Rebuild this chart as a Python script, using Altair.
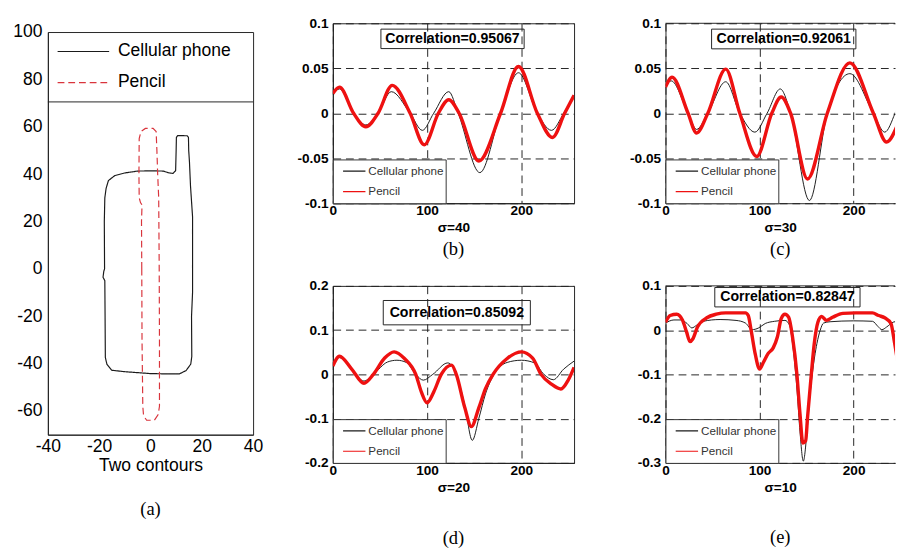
import altair as alt
import pandas as pd

SANS = "Liberation Sans"
SERIF = "Liberation Serif"
series_names = ["Cellular phone", "Pencil"]

# ---------------- (a) two contours ----------------
phone_x = [-17.9, -18.0, -17.8, -17.3, -16.4, -13.9, -10.1, -5.0, 0.0, 5.0, 7.0, 8.8, 9.8, 10.0, 10.1, 10.6,
           14.3, 14.8, 14.9, 15.2, 15.6, 16.4, 16.4, 16.4, 16.0, 16.1, 15.7, 13.9, 11.3, 5.0, 0.0, -5.0,
           -10.0, -15.1, -17.0, -17.6, -17.7, -17.8, -18.5, -18.2, -17.9]
phone_y = [0, 20, 30, 34, 37.3, 39.4, 40.5, 41.3, 41.4, 41.3, 40.6, 40.3, 41.5, 50, 55.5, 56.3,
           56.2, 55.5, 50, 45, 35, 22, 10, -10, -20, -37, -40.2, -42.9, -44.3, -44.3, -44.2, -43.8,
           -43.4, -42.8, -40.2, -37.4, -20, -5, -3.5, -1, 0]
pencil_x = [-3.4, -3.5, -3.3, -3.9, -4.4, -4.5, -4.4, -3.7, -2.0, 1.0, 2.2, 2.5, 2.8, 3.2, 3.4, 3.5, 3.5,
            3.0, 1.5, -1.5, -2.7, -3.0, -3.3, -3.4]
pencil_y = [0, 20, 27, 28, 30, 40, 55, 58, 59.3, 59.3, 58, 50, 40, 30, 0, -30, -58,
            -61.5, -63.9, -63.9, -62, -58, -30, 0]
a_legend_bottom = [70.5]

# ---------------- (b) sigma = 40 ----------------
b_phone_x = [0, 7, 22, 35, 48, 62, 82, 95, 107, 123, 133, 156, 178, 197, 217, 232, 245, 256]
b_phone_y = [0.022, 0.027, 0.0, -0.013, 0.0, 0.024, 0.0, -0.019, 0.0, 0.024, 0.0, -0.066, 0.0, 0.045, 0.0,
             -0.019, 0.0, 0.020]
b_pencil_x = [0, 7, 22, 35, 48, 63, 82, 97, 112, 123, 134, 155, 178, 197, 217, 233, 246, 256]
b_pencil_y = [0.022, 0.029, 0.0, -0.015, 0.0, 0.031, 0.0, -0.035, 0.0, 0.015, 0.0, -0.053, 0.0, 0.052, 0.0,
              -0.027, 0.0, 0.020]

# ---------------- (c) sigma = 30 ----------------
c_phone_x = [0, 6, 24, 33, 45, 64, 79, 95, 108, 122, 133, 153, 172, 196, 221, 233, 244, 247]
c_phone_y = [0.031, 0.036, 0.0, -0.018, 0.0, 0.035, 0.0, -0.021, 0.0, 0.027, 0.0, -0.097, 0.0, 0.044, 0.0,
             -0.021, 0.0, 0.008]
c_pencil_x = [0, 7, 24, 33, 45, 64, 79, 97, 113, 123, 133, 151, 172, 196, 221, 235, 247]
c_pencil_y = [0.029, 0.040, 0.0, -0.022, 0.0, 0.049, 0.0, -0.048, 0.0, 0.018, 0.0, -0.073, 0.0, 0.056, 0.0,
              -0.032, -0.012]

# ---------------- (d) sigma = 20 ----------------
d_phone_x = [0, 7, 20, 33, 43, 58, 68, 78, 88, 96, 106, 122, 131, 140, 148, 155, 162, 171, 185, 200, 214,
             224, 234, 245, 256]
d_phone_y = [0.028, 0.038, 0.012, -0.015, 0.0, 0.028, 0.032, 0.027, 0.0, -0.013, 0.0, 0.026, 0.0, -0.07,
             -0.149, -0.099, -0.044, 0.0, 0.027, 0.032, 0.026, 0.0, -0.012, 0.012, 0.030]
d_pencil_x = [0, 7, 20, 33, 43, 55, 65, 76, 88, 94, 100, 107, 115, 126, 131, 140, 147, 155, 162, 170, 185,
              200, 212, 221, 232, 242, 250, 256]
d_pencil_y = [0.019, 0.041, 0.012, -0.020, 0.0, 0.037, 0.051, 0.036, 0.0, -0.040, -0.064, -0.040, 0.0, 0.021,
              0.0, -0.075, -0.118, -0.075, -0.032, 0.0, 0.036, 0.051, 0.037, 0.0, -0.022, -0.033, -0.012, 0.016]

# ---------------- (e) sigma = 10 ----------------
e_phone_x = [0, 9, 16, 23, 28, 33, 40, 58, 75, 85, 92, 99, 106, 116, 127, 132, 135, 140, 143, 146.5, 150,
             153, 156, 161, 164.5, 168, 175, 200, 220, 226, 230, 235, 242, 247]
e_phone_y = [0.016, 0.023, 0.023, 0.015, 0.005, 0.011, 0.020, 0.024, 0.022, 0.016, 0.001, 0.005, 0.015,
             0.020, 0.022, 0.011, -0.029, -0.14, -0.23, -0.296, -0.24, -0.16, -0.10, -0.03, 0.0, 0.016,
             0.019, 0.021, 0.020, 0.008, 0.001, 0.007, 0.018, 0.020]
e_pencil_x = [0, 5, 12, 18, 22.4, 26, 29, 34, 44, 54, 64, 85, 88, 91, 95.5, 100, 104, 109, 114.5, 119, 123,
              127, 131, 135, 139.7, 143, 146, 149, 151, 155, 158, 162, 166, 171, 177.6, 188.6, 202, 220,
              226.6, 233, 239.7, 243, 246.6]
e_pencil_y = [0.018, 0.033, 0.036, 0.023, -0.004, -0.026, -0.020, 0.007, 0.028, 0.036, 0.039, 0.039, 0.033,
              0.0, -0.055, -0.088, -0.073, -0.053, -0.040, -0.015, 0.026, 0.036, 0.029, -0.015, -0.10,
              -0.19, -0.255, -0.25, -0.197, -0.10, -0.033, 0.018, 0.031, 0.022, 0.029, 0.038, 0.039, 0.039,
              0.033, 0.028, 0.015, -0.022, -0.069]

corr_labels = ["Correlation=0.95067", "Correlation=0.92061", "Correlation=0.85092", "Correlation=0.82847"]
sigma_labels = ["σ=40", "σ=30", "σ=20", "σ=10"]
captions = ["(a)", "(b)", "(c)", "(d)", "(e)"]
wave_xticks = [0, 100, 200]
a_xticks = [-40, -20, 0, 20, 40]
a_yticks = [-60, -40, -20, 0, 20, 40, 60, 80, 100]


def series_frame(px, py, qx, qy):
    rows = []
    for i, (x, y) in enumerate(zip(px, py)):
        rows.append({"x": x, "y": y, "series": series_names[0], "i": i})
    for i, (x, y) in enumerate(zip(qx, qy)):
        rows.append({"x": x, "y": y, "series": series_names[1], "i": i})
    return pd.DataFrame(rows)


def wave_panel(px, py, qx, qy, ydom, yticks, xmax, w, h, sigma, caption, cap_offset, corr, box, open_right):
    df = series_frame(px, py, qx, qy)
    xs = alt.Scale(domain=[0, xmax], nice=False, zero=False)
    ys = alt.Scale(domain=ydom, nice=False, zero=False)
    common = dict(grid=True, gridDash=[8, 5], gridColor="#222", gridWidth=1, ticks=False,
                  labelFlush=False, labelOverlap=False, labelBound=False,
                  labelFont=SANS, labelFontSize=14, labelFontWeight="bold", labelColor="black",
                  domainColor="#222", labelExpr="'' + datum.value")
    xaxis = alt.Axis(values=wave_xticks, title=sigma, labelPadding=1, titlePadding=3,
                     titleFont=SANS, titleFontSize=14, titleFontWeight="bold", titleColor="black", **common)
    yaxis = alt.Axis(values=yticks, title=None, labelPadding=5, **common)
    leg = alt.Legend(title=None, orient="none", legendX=0, legendY=h - 45, symbolType="stroke",
                     symbolSize=529, symbolStrokeWidth=1.2, symbolOffset=8, labelOffset=2,
                     labelFont=SANS, labelFontSize=12, labelColor="#333", padding=1.5, rowPadding=0,
                     clipHeight=21, strokeColor="#333", fillColor="white")
    color = alt.Color("series:N", scale=alt.Scale(domain=series_names, range=["#1a1a1a", "#ee1111"]),
                      legend=leg)
    base = alt.Chart(df).encode(x=alt.X("x:Q", scale=xs, axis=xaxis), y=alt.Y("y:Q", scale=ys, axis=yaxis),
                                color=color, order="i:Q")
    black = base.transform_filter(alt.datum.series == series_names[0]).mark_line(
        strokeWidth=1, interpolate="monotone", clip=True)
    red = base.transform_filter(alt.datum.series == series_names[1]).mark_line(
        strokeWidth=3.5, interpolate="monotone", clip=True)
    bdf = pd.DataFrame({"x1": [box[0]], "x2": [box[1]], "y1": [box[2]], "y2": [box[3]],
                        "tx": [(box[0] + box[1]) / 2], "ty": [(box[2] + box[3]) / 2], "label": [corr]})
    rect = alt.Chart(bdf).mark_rect(filled=False, stroke="#222", strokeWidth=1).encode(
        x=alt.X("x1:Q", scale=xs, axis=xaxis), x2="x2", y=alt.Y("y1:Q", scale=ys, axis=yaxis), y2="y2")
    text = alt.Chart(bdf).mark_text(font=SANS, fontSize=14.5, fontWeight="bold", color="black").encode(
        x=alt.X("tx:Q", scale=xs, axis=xaxis), y=alt.Y("ty:Q", scale=ys, axis=yaxis), text="label:N")
    layers = [rect, text, black, red]
    props = dict(width=w, height=h,
                 title=alt.TitleParams(caption, orient="bottom", font=SERIF, fontSize=19, fontWeight="normal",
                                       offset=cap_offset, frame="group", anchor="middle", color="black"))
    if open_right:
        top = alt.Chart(pd.DataFrame({"t": [ydom[1]]})).mark_rule(color="#222", strokeWidth=1).encode(
            y=alt.Y("t:Q", scale=ys, axis=yaxis))
        layers.append(top)
        props["view"] = alt.ViewBackground(stroke="transparent")
    return alt.layer(*layers).properties(**props)


# ---------------- panel (a) ----------------
adf = series_frame(phone_x, phone_y, pencil_x, pencil_y)
leg_a = alt.Legend(title=None, orient="none", legendX=0, legendY=0, symbolType="stroke", symbolSize=2809,
                   symbolStrokeWidth=1.2, symbolOffset=5, labelOffset=8, labelFont=SANS, labelFontSize=18,
                   labelColor="black", padding=4, rowPadding=0, clipHeight=32)
a_axis_common = dict(grid=False, ticks=False, labelFlush=False, labelOverlap=False, labelBound=False,
                     labelFont=SANS, labelFontSize=18, labelColor="black", domainColor="#222",
                     labelExpr="'' + datum.value")
a_xaxis = alt.Axis(values=a_xticks, title="Two contours", labelPadding=3, titlePadding=2,
                   titleFont=SANS, titleFontSize=18, titleFontWeight="normal", titleColor="black",
                   **a_axis_common)
a_yaxis = alt.Axis(values=a_yticks, title=None, labelPadding=6, **a_axis_common)
a_xs = alt.Scale(domain=[-40, 40], nice=False, zero=False)
a_ys = alt.Scale(domain=[-70, 100], nice=False, zero=False)
a_lines = alt.Chart(adf).mark_line(strokeWidth=1.2).encode(
    x=alt.X("x:Q", scale=a_xs, axis=a_xaxis),
    y=alt.Y("y:Q", scale=a_ys, axis=a_yaxis),
    color=alt.Color("series:N", scale=alt.Scale(domain=series_names, range=["#1a1a1a", "#d9343c"]), legend=leg_a),
    strokeDash=alt.StrokeDash("series:N", scale=alt.Scale(domain=series_names, range=[[1, 0], [7, 4]]),
                              legend=leg_a),
    order="i:Q",
)
a_box = alt.Chart(pd.DataFrame({"t": a_legend_bottom})).mark_rule(color="#222", strokeWidth=1).encode(
    y=alt.Y("t:Q", scale=a_ys, axis=a_yaxis))
chart_a = alt.layer(a_lines, a_box).properties(
    width=211, height=414,
    title=alt.TitleParams(captions[0], orient="bottom", font=SERIF, fontSize=19, fontWeight="normal",
                          offset=27, frame="group", anchor="middle", color="black"))

spacer = alt.Chart(pd.DataFrame({"v": [0]})).mark_point(opacity=0).encode(
    x=alt.X("v:Q", axis=None), y=alt.Y("v:Q", axis=None)
).properties(width=211, height=9, view=alt.ViewBackground(stroke="transparent"))

panel_b = wave_panel(b_phone_x, b_phone_y, b_pencil_x, b_pencil_y, [-0.1, 0.1], [-0.1, -0.05, 0, 0.05, 0.1],
                     256, 248, 185, sigma_labels[0], captions[1], 6, corr_labels[0],
                     [51, 203, 0.0719, 0.0935], False)
panel_c = wave_panel(c_phone_x, c_phone_y, c_pencil_x, c_pencil_y, [-0.1, 0.1], [-0.1, -0.05, 0, 0.05, 0.1],
                     244, 236, 185, sigma_labels[1], captions[2], 6, corr_labels[1],
                     [49, 202.4, 0.0716, 0.0935], True)
panel_d = wave_panel(d_phone_x, d_phone_y, d_pencil_x, d_pencil_y, [-0.2, 0.2], [-0.2, -0.1, 0, 0.1, 0.2],
                     256, 248, 182, sigma_labels[2], captions[3], 36, corr_labels[2],
                     [53.5, 209.6, 0.112, 0.167], False)
panel_e = wave_panel(e_phone_x, e_phone_y, e_pencil_x, e_pencil_y, [-0.3, 0.1], [-0.3, -0.2, -0.1, 0, 0.1],
                     244, 236, 182, sigma_labels[3], captions[4], 35, corr_labels[3],
                     [52.4, 206.8, 0.0525, 0.0963], True)


def indep(c):
    return c.resolve_scale(color="independent", strokeDash="independent").resolve_legend(
        color="independent", strokeDash="independent")


col_a = indep(alt.vconcat(spacer, chart_a, spacing=0, bounds="flush"))
col_bd = indep(alt.vconcat(panel_b, panel_d, spacing=85, bounds="flush"))
col_ce = indep(alt.vconcat(panel_c, panel_e, spacing=85, bounds="flush"))
right = indep(alt.hconcat(col_bd, col_ce, spacing=55))
chart = indep(alt.hconcat(col_a, right, spacing=33)).properties(
    padding={"left": 4, "top": 0, "right": 0, "bottom": 0}
).configure(background="white", font=SANS).configure_view(stroke="#222", strokeWidth=1)

chart.save("out.html", embed_options={"renderer": "svg", "actions": False})
